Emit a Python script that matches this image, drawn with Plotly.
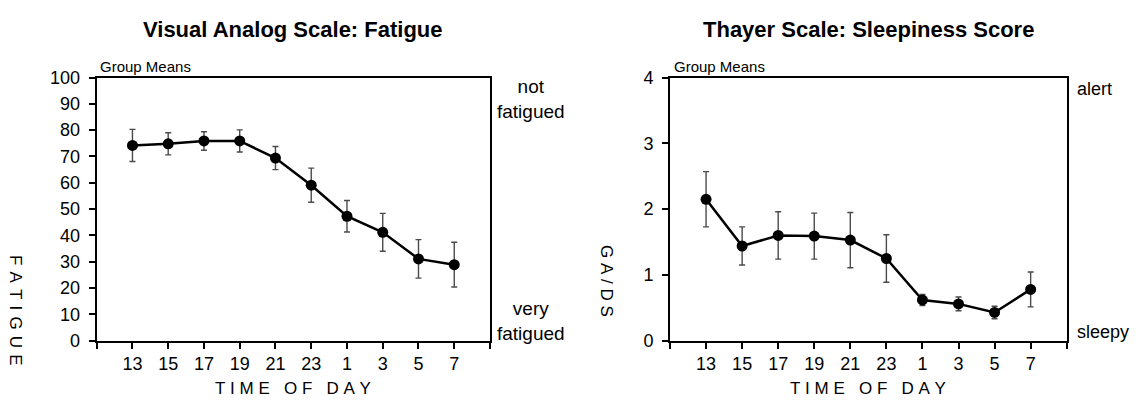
import plotly.graph_objects as go

hours = ["13", "15", "17", "19", "21", "23", "1", "3", "5", "7"]

fatigue_mean = [74.2, 74.8, 75.9, 75.9, 69.4, 59.1, 47.3, 41.2, 31.1, 28.9]
fatigue_err = [6.1, 4.2, 3.5, 4.2, 4.4, 6.5, 6.0, 7.2, 7.3, 8.5]

thayer_mean = [2.15, 1.44, 1.60, 1.59, 1.53, 1.25, 0.62, 0.56, 0.43, 0.78]
thayer_err = [0.42, 0.29, 0.36, 0.35, 0.42, 0.36, 0.085, 0.105, 0.095, 0.265]

FONT = "Liberation Sans, Arial, sans-serif"
W, H = 1138, 410

xpos = list(range(len(hours)))
tickvals = list(range(-1, len(hours) + 1))
ticktext = [""] + hours + [""]

fig = go.Figure()

def add_series(y, err, xa, ya):
    fig.add_trace(go.Scatter(
        x=xpos, y=y, xaxis=xa, yaxis=ya, mode="lines+markers",
        line=dict(color="black", width=2.5),
        marker=dict(color="black", size=11),
        error_y=dict(type="data", array=err, visible=True, color="#4a4a4a",
                     thickness=1.4, width=3),
        showlegend=False, hoverinfo="skip",
    ))

add_series(fatigue_mean, fatigue_err, "x", "y")
add_series(thayer_mean, thayer_err, "x2", "y2")

def px_x(p):
    return p / W

def px_y(p):
    return 1 - p / H

ydom = [px_y(347.7), px_y(71.0)]
xdom1 = [px_x(96.7), px_x(490.0)]
xdom2 = [px_x(670.0), px_x(1066.7)]

common_x = dict(range=[-1, len(hours)], tickmode="array", tickvals=tickvals,
                ticktext=ticktext, ticks="outside", ticklen=6, tickwidth=1.5,
                tickcolor="black", showline=True, linewidth=2, linecolor="black",
                mirror=True, showgrid=False, zeroline=False,
                tickfont=dict(family=FONT, size=18, color="black"),
                ticklabelstandoff=0, fixedrange=True)
common_y = dict(ticks="outside", ticklen=6, tickwidth=1.5, tickcolor="black",
                showline=True, linewidth=2, linecolor="black", mirror=True,
                showgrid=False, zeroline=False,
                tickfont=dict(family=FONT, size=18, color="black"),
                ticklabelstandoff=5, fixedrange=True)

fig.update_layout(
    width=W, height=H,
    margin=dict(l=0, r=0, t=0, b=0),
    paper_bgcolor="white", plot_bgcolor="white",
    font=dict(family=FONT, color="black"),
    xaxis=dict(domain=xdom1, anchor="y", **common_x),
    yaxis=dict(domain=ydom, anchor="x", range=[0, 100], dtick=10, **common_y),
    xaxis2=dict(domain=xdom2, anchor="y2", **common_x),
    yaxis2=dict(domain=ydom, anchor="x2", range=[0, 4], dtick=1, **common_y),
)

def ann(text, x, y, size, xanchor="center", yanchor="middle", bold=False, angle=0, align="center"):
    fig.add_annotation(
        text=f"<b>{text}</b>" if bold else text,
        x=px_x(x), y=px_y(y), xref="paper", yref="paper",
        xanchor=xanchor, yanchor=yanchor, showarrow=False, textangle=angle,
        align=align, font=dict(family=FONT, size=size, color="black"),
    )

# Titles
ann("Visual Analog Scale: Fatigue", (96.7 + 490) / 2, 20, 22, bold=True)
ann("Thayer Scale: Sleepiness Score", (670 + 1066.7) / 2, 20, 22, bold=True)

# Group Means
ann("Group Means", 98, 59, 15, xanchor="left")
ann("Group Means", 671.5, 59, 15, xanchor="left")

# Axis titles (letter spaced)
nb = "\u00a0"
hs = "\u00a0\u200a"
tod = f"T{nb}I{nb}M{nb}E{nb}{nb}{nb}O{nb}F{nb}{nb}{nb}D{nb}A{nb}Y"
ann(tod, (96.7 + 490) / 2, 398, 17)
ann(tod, (670 + 1066.7) / 2, 398, 17)
ann(f"F{hs}A{hs}T{hs}I{hs}G{hs}U{hs}E", 15.5, 316, 17, angle=90)
ann(f"G{nb}A{nb}/{nb}D{nb}S", 607, 285, 17, angle=90)

# Side labels
ann("not<br>fatigued", 531, 94, 19)
ann("very<br>fatigued", 531, 327, 19)
ann("alert", 1075, 83, 18, xanchor="left")
ann("sleepy", 1075, 338, 18, xanchor="left")

fig.write_html("out.html")
